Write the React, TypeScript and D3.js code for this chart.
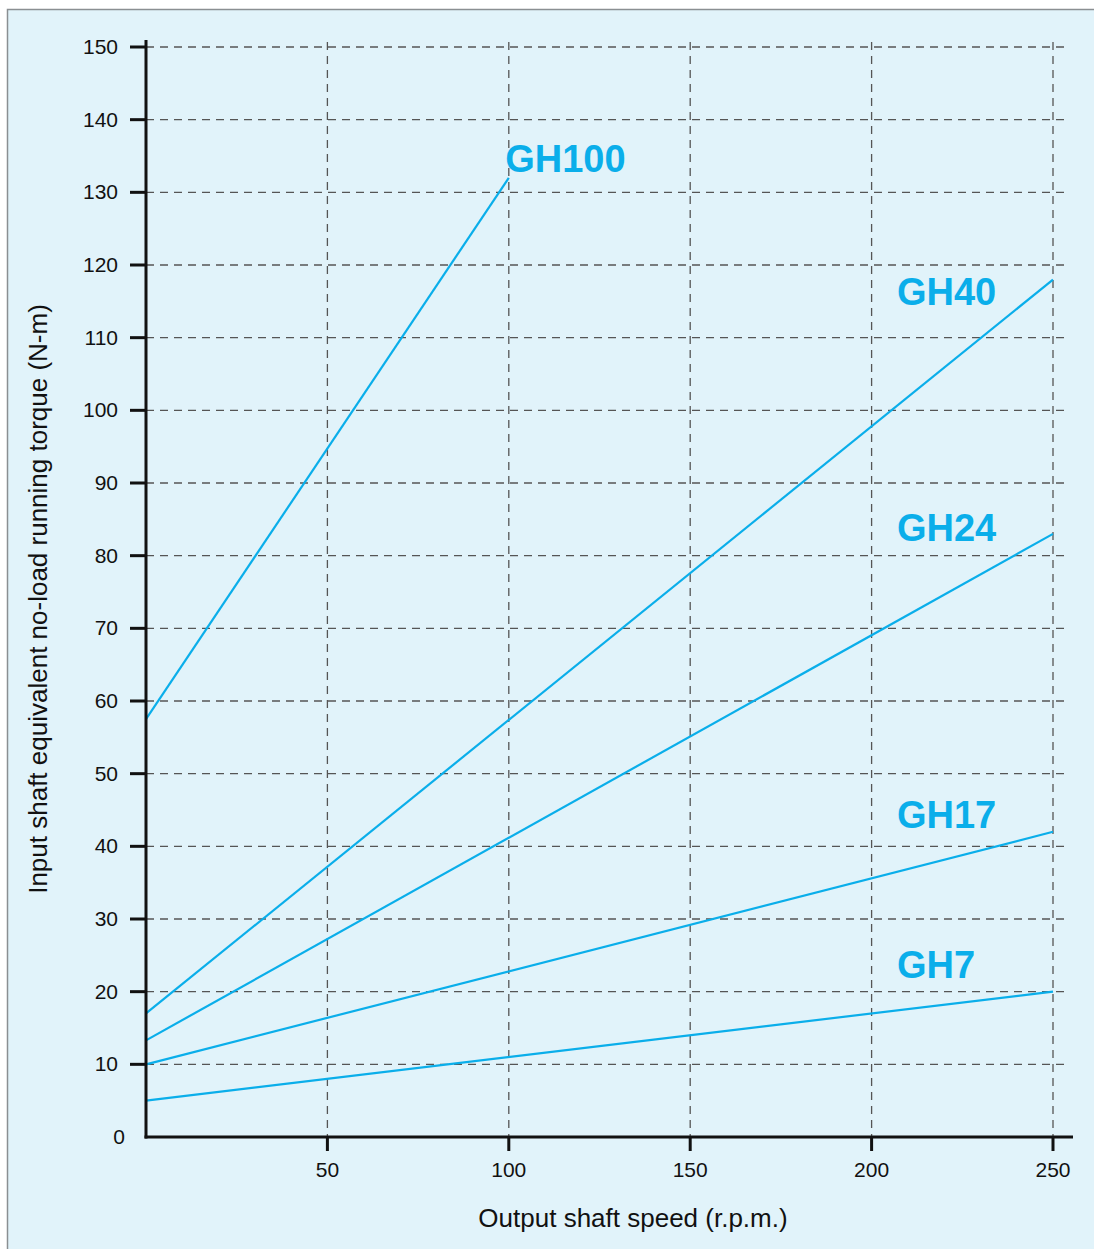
import React, { useEffect, useRef } from 'react';
import * as d3 from 'd3';

const yTicks = [0, 10, 20, 30, 40, 50, 60, 70, 80, 90, 100, 110, 120, 130, 140, 150];
const xTicks = [50, 100, 150, 200, 250];

const seriesNames = ['GH100', 'GH40', 'GH24', 'GH17', 'GH7'];
const startSpeed = [0, 0, 0, 0, 0];
const endSpeed = [100, 250, 250, 250, 250];
const startTorque = [57.5, 17, 13.3, 10, 5];
const endTorque = [132, 118, 83, 42, 20];
const labelPos = [[99, 132.8], [207, 114.5], [207, 82.0], [207, 42.5], [207, 21.9]];

export default function App() {
  const svgRef = useRef<SVGSVGElement | null>(null);

  useEffect(() => {
    if (!svgRef.current) return;
    const width = 1094;
    const height = 1249;
    const svg = d3.select(svgRef.current);
    svg.selectAll('*').remove();
    svg.attr('width', width).attr('height', height);

    const font = 'Helvetica, Arial, "Liberation Sans", sans-serif';
    const blue = '#0aaeea';

    // panel
    svg.append('rect')
      .attr('x', 7.5).attr('y', 9.5)
      .attr('width', width).attr('height', height)
      .attr('fill', '#e1f3fa')
      .attr('stroke', '#8a8f92')
      .attr('stroke-width', 1.5);

    const x = d3.scaleLinear().domain([0, 250]).range([146, 1053]);
    const y = d3.scaleLinear().domain([0, 150]).range([1137, 47]);

    const g = svg.append('g');

    // grid
    g.selectAll('.hgrid')
      .data(yTicks.filter(d => d > 0))
      .enter()
      .append('line')
      .attr('x1', x(0)).attr('x2', 1067)
      .attr('y1', d => y(d)).attr('y2', d => y(d))
      .attr('stroke', '#555')
      .attr('stroke-width', 1.3)
      .attr('stroke-dasharray', '8,6');

    g.selectAll('.vgrid')
      .data(xTicks)
      .enter()
      .append('line')
      .attr('x1', d => x(d)).attr('x2', d => x(d))
      .attr('y1', 42).attr('y2', y(0))
      .attr('stroke', '#555')
      .attr('stroke-width', 1.3)
      .attr('stroke-dasharray', '8,6');

    // series lines
    seriesNames.forEach((name, i) => {
      g.append('line')
        .attr('x1', x(startSpeed[i])).attr('y1', y(startTorque[i]))
        .attr('x2', x(endSpeed[i])).attr('y2', y(endTorque[i]))
        .attr('stroke', blue)
        .attr('stroke-width', 2.2);

      g.append('text')
        .attr('x', x(labelPos[i][0]))
        .attr('y', y(labelPos[i][1]))
        .attr('fill', blue)
        .style('font-family', font)
        .style('font-size', '38px')
        .style('font-weight', 'bold')
        .text(name);
    });

    // axes
    g.append('line')
      .attr('x1', x(0)).attr('x2', x(0))
      .attr('y1', 40).attr('y2', y(0) + 1.5)
      .attr('stroke', '#111').attr('stroke-width', 3);
    g.append('line')
      .attr('x1', x(0) - 1.5).attr('x2', 1073)
      .attr('y1', y(0)).attr('y2', y(0))
      .attr('stroke', '#111').attr('stroke-width', 3);

    g.selectAll('.ytick')
      .data(yTicks.filter(d => d > 0))
      .enter()
      .append('line')
      .attr('x1', 130).attr('x2', x(0))
      .attr('y1', d => y(d)).attr('y2', d => y(d))
      .attr('stroke', '#111').attr('stroke-width', 3);

    g.selectAll('.xtick')
      .data(xTicks)
      .enter()
      .append('line')
      .attr('x1', d => x(d)).attr('x2', d => x(d))
      .attr('y1', y(0)).attr('y2', y(0) + 14)
      .attr('stroke', '#111').attr('stroke-width', 3);

    g.selectAll('.ylabel')
      .data(yTicks)
      .enter()
      .append('text')
      .attr('x', d => (d === 0 ? 125 : 118))
      .attr('y', d => y(d) + 7)
      .attr('text-anchor', 'end')
      .attr('fill', '#111')
      .style('font-family', font)
      .style('font-size', '21px')
      .text(d => d);

    g.selectAll('.xlabel')
      .data(xTicks)
      .enter()
      .append('text')
      .attr('x', d => x(d))
      .attr('y', y(0) + 40)
      .attr('text-anchor', 'middle')
      .attr('fill', '#111')
      .style('font-family', font)
      .style('font-size', '21px')
      .text(d => d);

    g.append('text')
      .attr('x', 633).attr('y', 1227)
      .attr('text-anchor', 'middle')
      .attr('fill', '#111')
      .style('font-family', font)
      .style('font-size', '26px')
      .text('Output shaft speed (r.p.m.)');

    g.append('text')
      .attr('transform', 'translate(47,599) rotate(-90)')
      .attr('text-anchor', 'middle')
      .attr('fill', '#111')
      .style('font-family', font)
      .style('font-size', '26px')
      .text('Input shaft equivalent no-load running torque (N-m)');
  }, []);

  return (
    <div style={{ position: 'absolute', left: 0, top: 0, overflow: 'hidden', width: 1094, height: 1249 }}>
      <svg ref={svgRef} style={{ display: 'block' }}></svg>
    </div>
  );
}
